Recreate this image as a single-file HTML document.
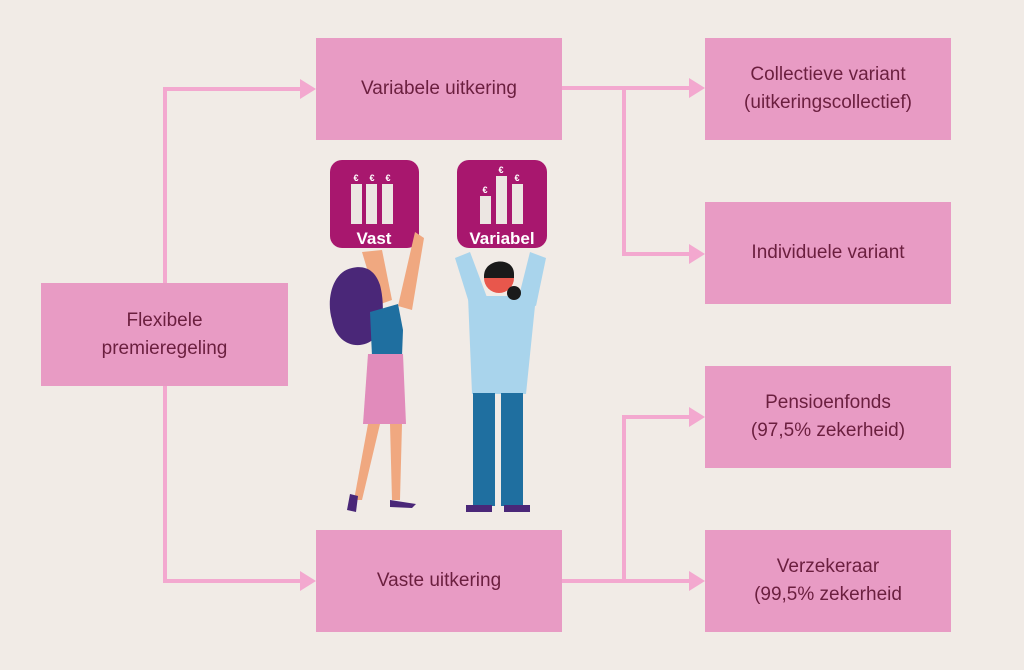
<!DOCTYPE html>
<html><head><meta charset="utf-8"><style>
body{margin:0;width:1024px;height:670px;background:#f1ebe6;position:relative;overflow:hidden;font-family:"Liberation Sans",sans-serif}
.b{position:absolute;background:#e89bc4;color:#6b1f3f;font-size:19px;line-height:28px;display:flex;align-items:center;justify-content:center;text-align:center}
svg{position:absolute;left:0;top:0}
</style></head><body>
<svg width="1024" height="670">
<g stroke="#f3a8cf" stroke-width="4" fill="none">
<polyline points="165,283 165,89 302,89"/>
<polyline points="165,386 165,581 302,581"/>
<polyline points="562,88 691,88"/>
<polyline points="624,88 624,254 691,254"/>
<polyline points="562,581 691,581"/>
<polyline points="624,581 624,417 691,417"/>
</g>
<g fill="#f3a8cf">
<polygon points="300,79 316,89 300,99"/>
<polygon points="300,571 316,581 300,591"/>
<polygon points="689,78 705,88 689,98"/>
<polygon points="689,244 705,254 689,264"/>
<polygon points="689,571 705,581 689,591"/>
<polygon points="689,407 705,417 689,427"/>
</g>
<rect x="330" y="160" width="89" height="88" rx="12" fill="#a8176e"/>
<rect x="457" y="160" width="90" height="88" rx="12" fill="#a8176e"/>
<g fill="#ece6e2">
<rect x="351" y="184" width="11" height="40"/><rect x="366" y="184" width="11" height="40"/><rect x="382" y="184" width="11" height="40"/>
<rect x="480" y="196" width="11" height="28"/><rect x="496" y="176" width="11" height="48"/><rect x="512" y="184" width="11" height="40"/>
</g>
<g fill="#fff" font-size="9" font-weight="bold" text-anchor="middle" font-family="Liberation Sans">
<text x="356" y="181">€</text><text x="372" y="181">€</text><text x="388" y="181">€</text>
<text x="485" y="193">€</text><text x="501" y="173">€</text><text x="517" y="181">€</text>
</g>
<g fill="#fff" font-size="17" font-weight="bold" text-anchor="middle" font-family="Liberation Sans">
<text x="374" y="244">Vast</text><text x="502" y="244">Variabel</text>
</g>
<!-- woman -->
<path d="M362,252 L382,250 L392,300 L378,305 Z" fill="#f0a880"/>
<path d="M415,232 L424,238 L412,310 L398,306 Z" fill="#f0a880"/>
<path d="M352,268 C332,272 326,300 332,320 C336,345 360,352 375,338 C385,325 384,300 380,285 C375,270 365,265 352,268 Z" fill="#4a2778"/>
<path d="M370,312 L398,304 L403,330 L402,356 L372,356 Z" fill="#1f6fa0"/>
<path d="M368,354 L403,354 L406,424 L363,424 Z" fill="#e18bbb"/>
<path d="M368,424 L380,424 L362,500 L354,500 Z" fill="#f0a880"/>
<path d="M390,424 L402,424 L400,500 L392,500 Z" fill="#f0a880"/>
<path d="M350,494 L358,496 L356,512 L347,510 Z" fill="#4a2778"/>
<path d="M390,500 L416,504 L412,508 L390,507 Z" fill="#4a2778"/>
<!-- man -->
<path d="M455,258 L470,252 L488,300 L470,306 Z" fill="#a9d4ec"/>
<path d="M530,252 L546,258 L536,306 L518,300 Z" fill="#a9d4ec"/>
<path d="M468,296 L536,296 L526,394 L472,394 Z" fill="#a9d4ec"/>
<circle cx="499" cy="278" r="15" fill="#e8574c"/>
<path d="M484,276 C484,258 514,256 514,274 L514,278 L484,278 Z" fill="#1a1a1a"/>
<circle cx="514" cy="293" r="7" fill="#1a1a1a"/>
<rect x="473" y="393" width="22" height="113" fill="#1f6fa0"/>
<rect x="501" y="393" width="22" height="113" fill="#1f6fa0"/>
<rect x="466" y="505" width="26" height="7" fill="#4a2778"/>
<rect x="504" y="505" width="26" height="7" fill="#4a2778"/>
</svg>
<div class="b" style="left:316px;top:38px;width:246px;height:102px">Variabele uitkering</div>
<div class="b" style="left:41px;top:283px;width:247px;height:103px">Flexibele<br>premieregeling</div>
<div class="b" style="left:316px;top:530px;width:246px;height:102px">Vaste uitkering</div>
<div class="b" style="left:705px;top:38px;width:246px;height:102px">Collectieve variant<br>(uitkeringscollectief)</div>
<div class="b" style="left:705px;top:202px;width:246px;height:102px">Individuele variant</div>
<div class="b" style="left:705px;top:366px;width:246px;height:102px">Pensioenfonds<br>(97,5% zekerheid)</div>
<div class="b" style="left:705px;top:530px;width:246px;height:102px">Verzekeraar<br>(99,5% zekerheid</div>
</body></html>
